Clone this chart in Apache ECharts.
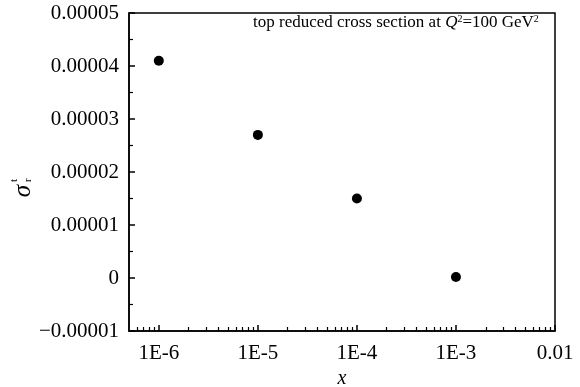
<!DOCTYPE html>
<html>
<head>
<meta charset="utf-8">
<script src="https://cdn.jsdelivr.net/npm/echarts@6/dist/echarts.min.js"></script>
<style>
  html, body { margin: 0; padding: 0; background: #fff; }
  #chart { width: 580px; height: 387px; }
</style>
</head>
<body>
<div id="chart"></div>
<script>
  // data
  var xValues = [1e-6, 1e-5, 1e-4, 1e-3];
  var sigmaValues = [0.000041, 0.000027, 0.000015, 0.0000002];

  // x ticks (log axis)
  var xMajorTicks = [1e-6, 1e-5, 1e-4, 1e-3, 1e-2];
  var xTickLabels = ['1E-6', '1E-5', '1E-4', '1E-3', '0.01'];
  var xMinorMantissas = [2, 3, 4, 5, 6, 7, 8, 9];
  var xMinorDecades = [1e-7, 1e-6, 1e-5, 1e-4, 1e-3];

  // y ticks
  var yMin = -0.00001, yMax = 0.00005, yStep = 0.00001;

  var FONT = '"Liberation Serif", "DejaVu Serif", serif';

  var xMinorTicks = [];
  xMinorDecades.forEach(function (d) {
    xMinorMantissas.forEach(function (m) {
      var v = m * d;
      if (v > 5e-7 && v < 1e-2) xMinorTicks.push(v);
    });
  });

  var seriesData = xValues.map(function (x, i) { return [x, sigmaValues[i]]; });

  function xLabel(v) {
    for (var i = 0; i < xMajorTicks.length; i++) {
      if (Math.abs(Math.log10(v) - Math.log10(xMajorTicks[i])) < 1e-6) return xTickLabels[i];
    }
    return '';
  }

  function yLabel(v) {
    if (Math.abs(v) < 1e-12) return '0';
    var s = Math.abs(v).toFixed(5);
    return v < 0 ? '\u2212' + s : s;
  }

  var chart = echarts.init(document.getElementById('chart'), null, { renderer: 'canvas' });

  chart.setOption({
    animation: false,
    backgroundColor: '#fff',
    grid: {
      left: 129, right: 25, top: 13, bottom: 56,
      outerBoundsMode: 'none',
      containLabel: false,
      show: true, borderColor: '#000', borderWidth: 1.5, backgroundColor: 'transparent'
    },
    xAxis: [{
      type: 'log',
      logBase: 10,
      min: 5e-7,
      max: 1e-2,
      position: 'bottom',
      name: 'x',
      nameLocation: 'middle',
      nameGap: 33,
      nameTextStyle: { fontFamily: FONT, fontSize: 20, fontStyle: 'italic', color: '#000' },
      axisLine: { show: true, onZero: false, lineStyle: { color: '#000', width: 1.5 } },
      axisTick: { show: true, inside: true, length: 6, customValues: xMajorTicks, lineStyle: { color: '#000', width: 1.5 } },
      axisLabel: {
        customValues: xMajorTicks,
        formatter: xLabel,
        margin: 12,
        fontFamily: FONT, fontSize: 21, color: '#000'
      },
      splitLine: { show: false },
      minorTick: { show: false },
      minorSplitLine: { show: false }
    }, {
      type: 'log',
      logBase: 10,
      min: 5e-7,
      max: 1e-2,
      position: 'bottom',
      axisLine: { show: false, onZero: false },
      axisTick: { show: true, inside: true, length: 4, customValues: xMinorTicks, lineStyle: { color: '#000', width: 1.2 } },
      axisLabel: { show: false },
      splitLine: { show: false }
    }],
    yAxis: {
      type: 'value',
      min: yMin,
      max: yMax,
      interval: yStep,
      axisLine: { show: true, onZero: false, lineStyle: { color: '#000', width: 1.5 } },
      axisTick: { show: true, inside: true, length: 6, lineStyle: { color: '#000', width: 1.5 } },
      minorTick: { show: true, splitNumber: 2, length: 4, lineStyle: { color: '#000', width: 1.2 } },
      axisLabel: {
        formatter: yLabel,
        margin: 10,
        fontFamily: FONT, fontSize: 21, color: '#000'
      },
      splitLine: { show: false }
    },
    graphic: [{
      type: 'text',
      left: 253,
      top: 14,
      style: {
        text: 'top reduced cross section at {q|Q}{sup|2}=100 GeV{sup|2}',
        fontFamily: FONT,
        fontSize: 17,
        fill: '#000',
        rich: {
          q: { fontFamily: FONT, fontSize: 17, fontStyle: 'italic' },
          sup: { fontFamily: FONT, fontSize: 10, verticalAlign: 'top', padding: [0, 0, 7, 0] }
        }
      }
    }, {
      type: 'group',
      x: 23,
      y: 187,
      rotation: Math.PI / 2,
      children: [{
        type: 'text',
        x: -4, y: 0,
        style: {
          text: '\u03c3', fontFamily: FONT, fontSize: 25, fontStyle: 'italic', fill: '#000',
          align: 'center', verticalAlign: 'middle'
        }
      }, {
        type: 'text',
        x: 5, y: -9,
        style: { text: 't', fontFamily: FONT, fontSize: 11, fill: '#000', align: 'left', verticalAlign: 'middle' }
      }, {
        type: 'text',
        x: 5, y: 5,
        style: { text: 'r', fontFamily: FONT, fontSize: 11, fill: '#000', align: 'left', verticalAlign: 'middle' }
      }]
    }],
    series: [{
      type: 'scatter',
      xAxisIndex: 0,
      data: seriesData,
      symbol: 'circle',
      symbolSize: 10,
      itemStyle: { color: '#000', opacity: 1 }
    }]
  });
</script>
</body>
</html>
